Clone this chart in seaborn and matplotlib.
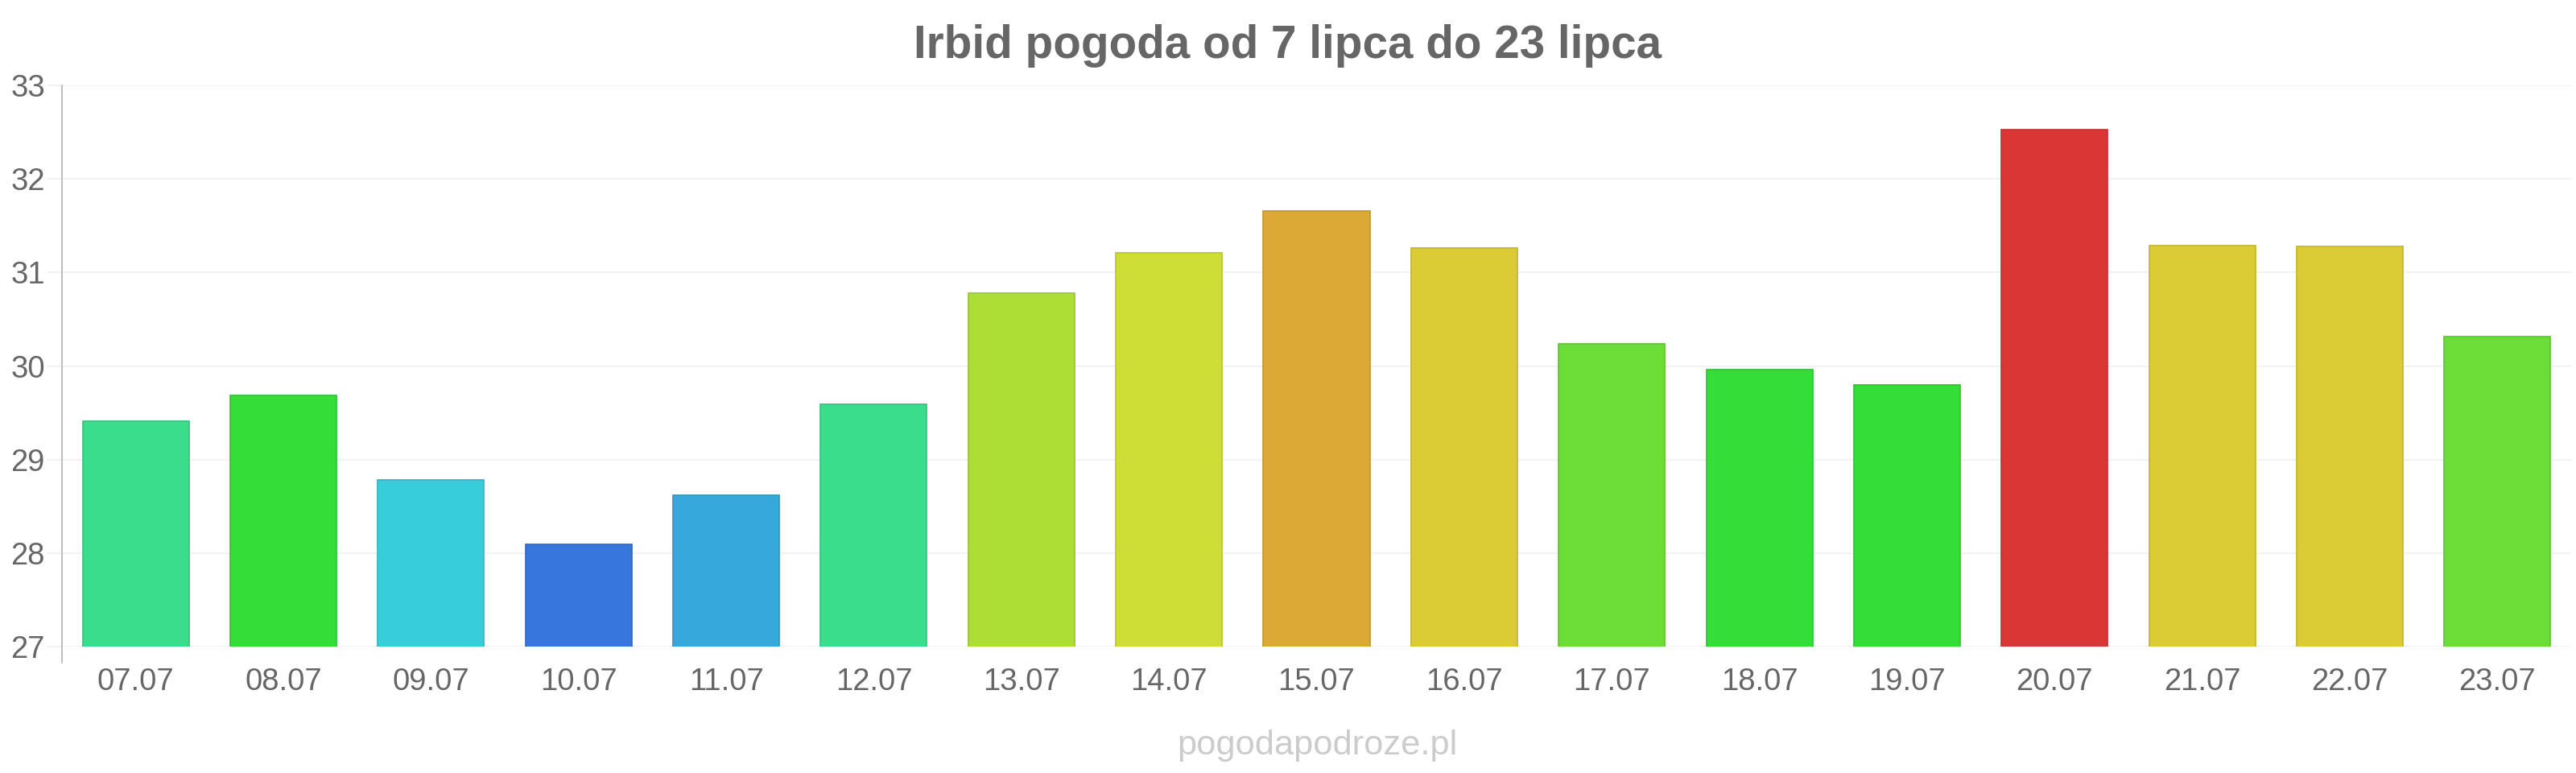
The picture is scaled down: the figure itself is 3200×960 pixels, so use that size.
import matplotlib
matplotlib.use("Agg")
import matplotlib.pyplot as plt
import matplotlib.colors as mcolors
import seaborn as sns
import pandas as pd

# ---- data ----
dates = ["07.07", "08.07", "09.07", "10.07", "11.07", "12.07", "13.07", "14.07",
         "15.07", "16.07", "17.07", "18.07", "19.07", "20.07", "21.07", "22.07", "23.07"]
temps = [29.41, 29.69, 28.78, 28.09, 28.62, 29.59, 30.78, 31.21,
         31.66, 31.26, 30.24, 29.96, 29.80, 32.53, 31.29, 31.28, 30.31]
bar_colors = ["#3ADD8C", "#35DD38", "#36CEDB", "#3776DC", "#36A8DB", "#3ADD8C",
              "#ADDE34", "#CFDE36", "#DCA936", "#DBCB34", "#6CDC36", "#35DD38",
              "#35DD38", "#DB3636", "#DBCB34", "#DBCB34", "#6CDC36"]
yticks = [27, 28, 29, 30, 31, 32, 33]
title = "Irbid pogoda od 7 lipca do 23 lipca"
source = "pogodapodroze.pl"

sns.set_theme(style="white")
plt.rcParams['font.family'] = ['Liberation Sans', 'DejaVu Sans']

W, H = 3200, 960
fig = plt.figure(figsize=(W / 100, H / 100), dpi=100)
top_px, bot_px, left_px, right_px = 106, 803, 77, 3194
ax = fig.add_axes([left_px / W, 1 - bot_px / H, (right_px - left_px) / W, (bot_px - top_px) / H])

df = pd.DataFrame({"date": dates, "temp": temps})
sns.barplot(data=df, x="date", y="temp", hue="date", palette=bar_colors,
            width=0.72, legend=False, ax=ax, saturation=1)

for p, c in zip(ax.patches, bar_colors):
    r, g, b = mcolors.to_rgb(c)
    p.set_edgecolor((r * 0.88, g * 0.88, b * 0.88))
    p.set_linewidth(1.2)

ax.set_ylim(yticks[0], yticks[-1])
ax.set_xlim(-0.5, len(dates) - 0.5)
ax.set_yticks(yticks)
ax.set_xlabel("")
ax.set_ylabel("")
ax.yaxis.grid(True, color="#f2f2f2", linewidth=1.5)
ax.xaxis.grid(False)
ax.set_axisbelow(True)
for s in ax.spines.values():
    s.set_visible(False)

# left axis line extending slightly below the bottom
ax.plot([0, 0], [-20 / (bot_px - top_px), 1], transform=ax.transAxes,
        color="#c0c0c0", linewidth=1.5, clip_on=False, zorder=5)

ax.tick_params(axis="y", length=13.7, width=1.5, color="#f2f2f2",
               labelsize=27.5, labelcolor="#666666", pad=1.5, left=True)
ax.tick_params(axis="x", length=0, labelsize=27.5, labelcolor="#666666", pad=19)

fig.text(0.5, 1 - 57 / H, title, ha="center", va="center", fontsize=40.8,
         fontweight="bold", color="#666666")
fig.text(1636 / W, 1 - 926 / H, source, ha="center", va="center",
         fontsize=31.3, color="#cccccc")

fig.savefig("out.png", dpi=100, facecolor="white")
